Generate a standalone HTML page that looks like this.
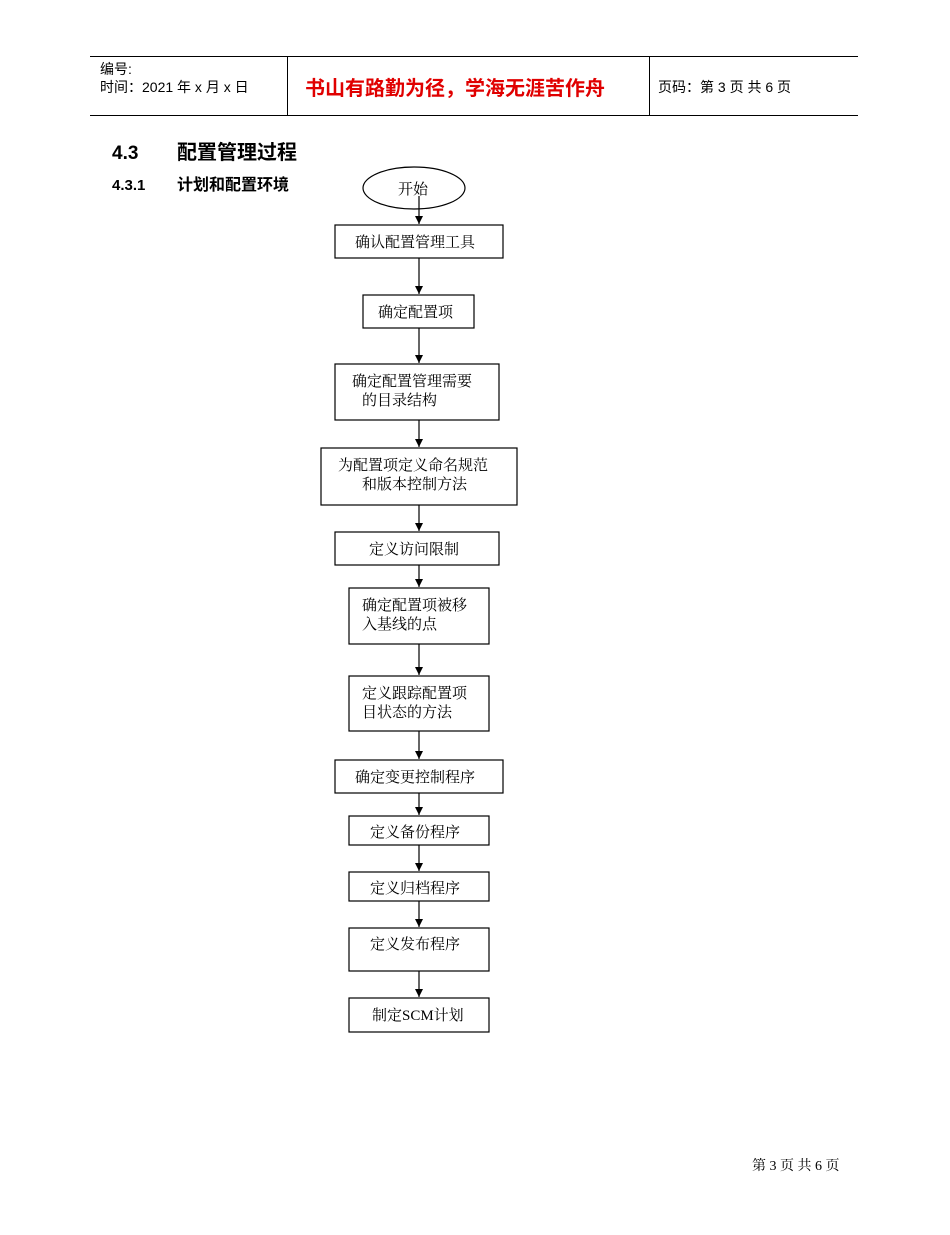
<!DOCTYPE html><html><head><meta charset="utf-8"><style>
body{margin:0;background:#fff;width:950px;height:1230px;overflow:hidden}
svg text{font-family:"Liberation Serif","Noto Serif CJK SC",serif}
.s{font-family:"Liberation Sans","Noto Sans CJK SC",sans-serif}
</style></head><body>
<svg width="950" height="1230" xmlns="http://www.w3.org/2000/svg">
<defs><marker id="a" markerWidth="10" markerHeight="10" refX="8" refY="4" orient="auto" markerUnits="userSpaceOnUse"><path d="M0,0 L8,4 L0,8 z" fill="#000"/></marker></defs>
<g stroke="#000" stroke-width="1">
<line x1="90" y1="56.5" x2="858" y2="56.5"/><line x1="90" y1="115.5" x2="858" y2="115.5"/>
<line x1="287.5" y1="56" x2="287.5" y2="115"/><line x1="649.5" y1="56" x2="649.5" y2="115"/>
</g>
<text class="s" x="100" y="74" font-size="14">编号:</text>
<text class="s" x="100" y="92" font-size="14">时间：2021 年 x 月 x 日</text>
<text class="s" x="305" y="95" font-size="20" font-weight="bold" fill="#e00000">书山有路勤为径，学海无涯苦作舟</text>
<text class="s" x="658" y="92" font-size="14">页码：第 3 页 共 6 页</text>
<text class="s" x="112" y="159" font-size="19" font-weight="bold">4.3</text>
<text class="s" x="177" y="159" font-size="20" font-weight="bold">配置管理过程</text>
<text class="s" x="112" y="190" font-size="15" font-weight="bold">4.3.1</text>
<text class="s" x="177" y="190" font-size="16" font-weight="bold">计划和配置环境</text>
<g fill="none" stroke="#000" stroke-width="1.2">
<ellipse cx="414" cy="188" rx="51" ry="21"/>
<rect x="335" y="225" width="168" height="33"/>
<rect x="363" y="295" width="111" height="33"/>
<rect x="335" y="364" width="164" height="56"/>
<rect x="321" y="448" width="196" height="57"/>
<rect x="335" y="532" width="164" height="33"/>
<rect x="349" y="588" width="140" height="56"/>
<rect x="349" y="676" width="140" height="55"/>
<rect x="335" y="760" width="168" height="33"/>
<rect x="349" y="816" width="140" height="29"/>
<rect x="349" y="872" width="140" height="29"/>
<rect x="349" y="928" width="140" height="43"/>
<rect x="349" y="998" width="140" height="34"/>
</g>
<g stroke="#000" stroke-width="1.2" marker-end="url(#a)">
<line x1="419" y1="196" x2="419" y2="224"/>
<line x1="419" y1="258" x2="419" y2="294"/>
<line x1="419" y1="328" x2="419" y2="363"/>
<line x1="419" y1="420" x2="419" y2="447"/>
<line x1="419" y1="505" x2="419" y2="531"/>
<line x1="419" y1="565" x2="419" y2="587"/>
<line x1="419" y1="644" x2="419" y2="675"/>
<line x1="419" y1="731" x2="419" y2="759"/>
<line x1="419" y1="793" x2="419" y2="815"/>
<line x1="419" y1="845" x2="419" y2="871"/>
<line x1="419" y1="901" x2="419" y2="927"/>
<line x1="419" y1="971" x2="419" y2="997"/>
</g>
<g font-size="15">
<text x="398" y="194">开始</text>
<text x="355" y="247">确认配置管理工具</text>
<text x="378" y="317">确定配置项</text>
<text x="352" y="386">确定配置管理需要</text><text x="362" y="405">的目录结构</text>
<text x="338" y="470">为配置项定义命名规范</text><text x="362" y="489">和版本控制方法</text>
<text x="369" y="554">定义访问限制</text>
<text x="362" y="610">确定配置项被移</text><text x="362" y="629">入基线的点</text>
<text x="362" y="698">定义跟踪配置项</text><text x="362" y="717">目状态的方法</text>
<text x="355" y="782">确定变更控制程序</text>
<text x="370" y="837">定义备份程序</text>
<text x="370" y="893">定义归档程序</text>
<text x="370" y="949">定义发布程序</text>
<text x="372" y="1020">制定SCM计划</text>
</g>
<text x="752" y="1170" font-size="14">第 3 页 共 6 页</text>
</svg></body></html>
